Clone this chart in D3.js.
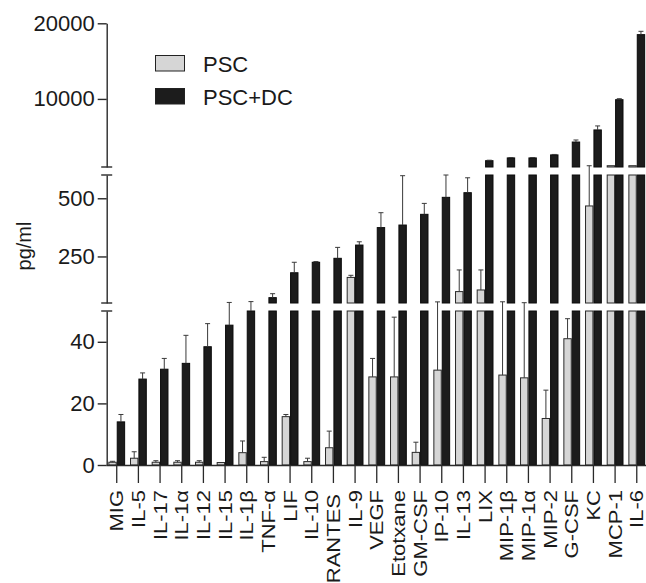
<!DOCTYPE html>
<html>
<head>
<meta charset="utf-8">
<script src="https://cdn.jsdelivr.net/npm/d3@7/dist/d3.min.js"></script>
<style>
  html, body { margin: 0; padding: 0; background: #fff; }
  svg { display: block; }
  text { font-family: "Liberation Sans", Arial, Helvetica, sans-serif; fill: #1a1a1a; }
</style>
</head>
<body>
<svg id="chart" width="646" height="583"></svg>
<script>
// ---------------- data ----------------
const categories = ["MIG","IL-5","IL-17","IL-1\u03b1","IL-12","IL-15","IL-1\u03b2","TNF-\u03b1","LIF","IL-10",
  "RANTES","IL-9","VEGF","Etotxane","GM-CSF","IP-10","IL-13","LIX","MIP-1\u03b2","MIP-1\u03b1",
  "MIP-2","G-CSF","KC","MCP-1","IL-6"];
const seriesNames = ["PSC", "PSC+DC"];
const pscValues = [0.9, 2.2, 0.9, 0.9, 0.9, 0.8, 4.0, 1.1, 15.7, 1.1,
  5.6, 160, 28.6, 28.6, 4.1, 30.8, 99, 106, 29.2, 28.3,
  15.1, 41, 467, 1170, 1170];
const pscErrors = [0.3, 2.1, 0.5, 0.5, 0.5, 0, 3.8, 1.4, 0.7, 1.1,
  5.4, 9, 6, 19.4, 3.3, 24, 93, 86, 26, 23,
  9.2, 6.5, 700, 0, 0];
const pscdcValues = [14.0, 27.9, 31.1, 33.0, 38.4, 45.4, 50, 73, 180, 225,
  242, 299, 374, 385, 431, 504, 524, 1835, 2200, 2200,
  2600, 4300, 5900, 9900, 18500];
const pscdcErrors = [2.4, 2.0, 3.5, 9.1, 7.5, 7, 6, 17, 45, 3,
  47, 14, 64, 212, 47, 96, 64, 60, 50, 50,
  60, 270, 530, 130, 440];
const bottomTicks = [0, 20, 40];
const middleTicks = [250, 500];
const topTicks = [10000, 20000];

// ---------------- layout ----------------
const svg = d3.select("#chart");
const axisX = 106.7;
const segments = [
  { domain: [0, 50],        range: [465, 311], ticks: bottomTicks },
  { domain: [50, 600],      range: [303, 175], ticks: middleTicks },
  { domain: [1000, 20000],  range: [167, 23.3], ticks: topTicks }
];
segments.forEach(s => s.scale = d3.scaleLinear().domain(s.domain).range(s.range));

function yPos(v) {
  const [b, m, t] = segments;
  if (v <= 50) return b.scale(v);
  if (v <= 600) return m.scale(v);
  if (v < 1000) return 175 + (167 - 175) * (v - 600) / 400;
  return t.scale(Math.min(v, 20000));
}

const x = d3.scaleBand().domain(categories).range([105.9, 647.6]).padding(0);
const barW = 8.4;
const inner = d3.scaleBand().domain(seriesNames).range([-barW, barW]).padding(0);

const fills = { "PSC": "#d6d6d6", "PSC+DC": "#1c1c1c" };
const strokes = { "PSC": "#2a2a2a", "PSC+DC": "#0a0a0a" };

const rows = categories.map((c, i) => ({
  cat: c,
  vals: [
    { s: "PSC", v: pscValues[i], e: pscErrors[i] },
    { s: "PSC+DC", v: pscdcValues[i], e: pscdcErrors[i] }
  ]
}));

// ---------------- bars ----------------
const gBars = svg.append("g");
segments.forEach(seg => {
  const [d0, d1] = seg.domain;
  rows.forEach(r => {
    r.vals.forEach(d => {
      if (d.v <= d0) return;
      const top = seg.scale(Math.min(d.v, d1));
      const bot = seg.scale(d0);
      const cx = x(r.cat) + x.bandwidth() / 2 + inner(d.s);
      gBars.append("rect")
        .attr("x", cx + 0.5)
        .attr("y", top)
        .attr("width", inner.bandwidth() - 1)
        .attr("height", Math.max(0, bot - top))
        .attr("fill", fills[d.s])
        .attr("stroke", strokes[d.s])
        .attr("stroke-width", 1);
    });
  });
});

// ---------------- error bars ----------------
const gErr = svg.append("g").attr("stroke", "#3a3a3a").attr("stroke-width", 1).attr("fill", "none");
rows.forEach(r => {
  r.vals.forEach(d => {
    if (!(d.e > 0)) return;
    const cx = x(r.cat) + x.bandwidth() / 2 + inner(d.s) + inner.bandwidth() / 2;
    const y0 = yPos(d.v), y1 = yPos(d.v + d.e);
    gErr.append("line").attr("x1", cx).attr("x2", cx).attr("y1", y0).attr("y2", y1);
    gErr.append("line").attr("x1", cx - 2.5).attr("x2", cx + 2.5).attr("y1", y1).attr("y2", y1);
  });
});

// ---------------- y axis segments ----------------
segments.forEach((seg, i) => {
  const g = svg.append("g").attr("transform", `translate(${axisX},0)`)
    .call(d3.axisLeft(seg.scale).tickValues(seg.ticks).tickSize(9).tickSizeOuter(0).tickPadding(3).tickFormat(d3.format("d")));
  g.select(".domain").attr("stroke", "#2a2a2a").attr("stroke-width", 1.4);
  g.selectAll(".tick line").attr("stroke", "#2a2a2a").attr("stroke-width", 1.4);
  g.selectAll(".tick text").attr("font-size", 22).attr("fill", "#1a1a1a")
    .attr("font-family", '"Liberation Sans", Arial, sans-serif');
  const ends = [];
  if (i > 0) ends.push(seg.range[0]);
  if (i < segments.length - 1) ends.push(seg.range[1]);
  ends.forEach(yy => {
    svg.append("line").attr("x1", axisX - 5.5).attr("x2", axisX + 5.5)
      .attr("y1", yy).attr("y2", yy).attr("stroke", "#2a2a2a").attr("stroke-width", 1.4);
  });
});

// ---------------- x axis ----------------
const gx = svg.append("g").attr("transform", "translate(0,465)")
  .call(d3.axisBottom(x).tickSize(18).tickSizeOuter(0).tickPadding(0));
gx.select(".domain").attr("stroke", "#2a2a2a").attr("stroke-width", 1.4)
  .attr("d", `M${axisX},0.5H646`);
gx.selectAll(".tick line").attr("stroke", "#2a2a2a").attr("stroke-width", 1.3);
gx.selectAll(".tick text")
  .attr("font-size", 22)
  .attr("font-family", '"Liberation Sans", Arial, sans-serif')
  .attr("fill", "#1a1a1a")
  .attr("text-anchor", "end")
  .attr("transform", d => `translate(0,${d === "RANTES" ? 29 : 25}) rotate(-90) scale(1,0.86)`)
  .attr("x", 0).attr("y", 0).attr("dy", "0.35em");

// ---------------- y label ----------------
svg.append("text")
  .attr("transform", "translate(24,246) rotate(-90)")
  .attr("text-anchor", "middle")
  .attr("dy", "0.35em")
  .attr("font-size", 20)
  .text("pg/ml");

// ---------------- legend ----------------
const legend = svg.append("g").attr("transform", "translate(155,55)");
seriesNames.forEach((s, i) => {
  const g = legend.append("g").attr("transform", `translate(0,${i * 33})`);
  g.append("rect").attr("x", 0.5).attr("y", 0.5).attr("width", 29).attr("height", 15.5)
    .attr("fill", fills[s]).attr("stroke", "#222").attr("stroke-width", 1);
  g.append("text").attr("x", 48).attr("y", 16.5).attr("font-size", 22).text(s);
});
</script>
</body>
</html>
